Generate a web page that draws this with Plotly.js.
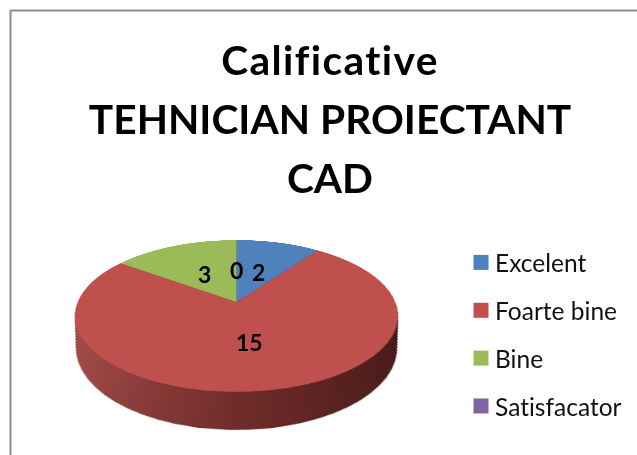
<!DOCTYPE html>
<html>
<head>
<meta charset="utf-8">
<script src="https://cdn.plot.ly/plotly-3.0.1.min.js"></script>
<style>
html,body{margin:0;padding:0;width:637px;height:455px;overflow:hidden;background:#fff}
#wrap{position:relative;width:637px;height:455px;overflow:hidden}
#pie{position:absolute;left:0;top:0;width:637px;height:700px;
  transform-origin:236.5px 302px;transform:perspective(766px) rotateX(62.5deg)}
#chart{position:absolute;left:0;top:0;width:637px;height:455px}
#chart text{font-variant-ligatures:none !important;font-feature-settings:"liga" 0,"clig" 0 !important;letter-spacing:0.01px}
</style>
</head>
<body>
<div id="wrap"><div id="pie"></div><div id="chart"></div></div>
<script>
var titleText = 'Calificative<br>TEHNICIAN PROIECTANT<br>CAD';
var categories = ['Excelent', 'Foarte bine', 'Bine', 'Satisfacator'];
var values = [2, 15, 3, 0];
var colors = ['#4f81bd', '#c0504d', '#9bbb59', '#8064a2'];
var labelX = [258, 249, 204, 236];
var labelY = [272, 342, 274, 270];

var W = 637, H = 700, CX = 236.5, CY = 302, R = 158.8;
function pieTrace(cy, r, cols) {
  return {
    type: 'pie', values: values, labels: categories, sort: false,
    direction: 'clockwise', rotation: 0, textinfo: 'none', hoverinfo: 'skip',
    showlegend: false, marker: {colors: cols, line: {width: 0}},
    domain: {x: [(CX - r) / W, (CX + r) / W], y: [1 - (cy + r) / H, 1 - (cy - r) / H]}
  };
}
var LAYERS = 48, pieData = [];
for (var i = LAYERS; i >= 1; i--) {
  var f = i / LAYERS;
  pieData.push(pieTrace(CY + 63.8 * f, R - 12.8 * f, colors));
}
pieData.push(pieTrace(CY, R, colors));

var pieLayout = {width: W, height: H, margin: {l: 0, r: 0, t: 0, b: 0},
  paper_bgcolor: '#fff', showlegend: false};

var legendTraces = categories.map(function (c, i) {
  return {type: 'scatter', mode: 'markers', x: [null], y: [null], name: c, legendgroup: c,
    hoverinfo: 'skip', marker: {symbol: 'square', size: 15, color: colors[i], line: {width: 0}}};
});
var FONT = 'Lato, Carlito, sans-serif';
var annotations = values.map(function (v, i) {
  return {xref: 'paper', yref: 'paper', x: labelX[i] / 637, y: 1 - labelY[i] / 455,
    xanchor: 'center', yanchor: 'middle', showarrow: false, text: String(v),
    font: {family: FONT, size: 23, color: '#000', weight: 700}};
});
var chartLayout = {
  width: 637, height: 455, margin: {l: 0, r: 0, t: 0, b: 0},
  paper_bgcolor: 'rgba(0,0,0,0)', plot_bgcolor: 'rgba(0,0,0,0)',
  title: {text: titleText, x: 330 / 637, xanchor: 'center', y: 1 - 75 / 455, yanchor: 'top',
    font: {family: FONT, size: 40.7, color: '#000', weight: 700}},
  xaxis: {visible: false, range: [0, 1]}, yaxis: {visible: false, range: [0, 1]},
  showlegend: true,
  legend: {x: 461 / 637, y: 1 - 240 / 455, xanchor: 'left', yanchor: 'top',
    bgcolor: 'rgba(0,0,0,0)', tracegroupgap: 13, itemclick: false, itemdoubleclick: false,
    font: {family: FONT, size: 24.5, color: '#111'}},
  annotations: annotations,
  shapes: [
    {type: 'line', xref: 'paper', yref: 'paper', x0: 10.5 / 637, x1: 10.5 / 637, y0: 0, y1: 1 - 10 / 455,
      line: {color: '#8e8e8e', width: 2}},
    {type: 'line', xref: 'paper', yref: 'paper', x0: 10 / 637, x1: 1, y0: 1 - 10.5 / 455, y1: 1 - 10.5 / 455,
      line: {color: '#8e8e8e', width: 2}}
  ]
};
var cfg = {displayModeBar: false, staticPlot: true};

Plotly.newPlot('pie', pieData, pieLayout, cfg).then(function (gd) {
  var svg = gd.querySelector('svg.main-svg');
  var ns = 'http://www.w3.org/2000/svg';
  var defs = svg.querySelector('defs') || svg.appendChild(document.createElementNS(ns, 'defs'));
  var g = document.createElementNS(ns, 'linearGradient');
  g.setAttribute('id', 'sideGrad');
  g.setAttribute('gradientUnits', 'userSpaceOnUse');
  g.setAttribute('x1', '80'); g.setAttribute('x2', '393');
  g.setAttribute('y1', '0'); g.setAttribute('y2', '0');
  [[0, '#a54e4b'], [0.25, '#8a3c3a'], [0.5, '#702c2a'], [0.75, '#5a2220'], [1, '#451a18']].forEach(function (s) {
    var st = document.createElementNS(ns, 'stop');
    st.setAttribute('offset', s[0]); st.setAttribute('stop-color', s[1]);
    g.appendChild(st);
  });
  defs.appendChild(g);
  var traces = gd.querySelectorAll('.pielayer .trace');
  traces.forEach(function (t, idx) {
    if (idx < traces.length - 1) {
      t.querySelectorAll('.slice path.surface').forEach(function (p) {
        p.style.fill = 'url(#sideGrad)';
      });
    }
  });
});
Plotly.newPlot('chart', legendTraces, chartLayout, cfg).then(function (gd) {
  gd.querySelectorAll('.legendtext').forEach(function (t) { t.setAttribute('x', 34); });
  gd.querySelectorAll('.gtitle tspan.line').forEach(function (t, i) {
    if (i === 0) t.style.letterSpacing = '1.4px';
    if (i > 0) t.setAttribute('dy', 59 * i);
  });
});
</script>
</body>
</html>
